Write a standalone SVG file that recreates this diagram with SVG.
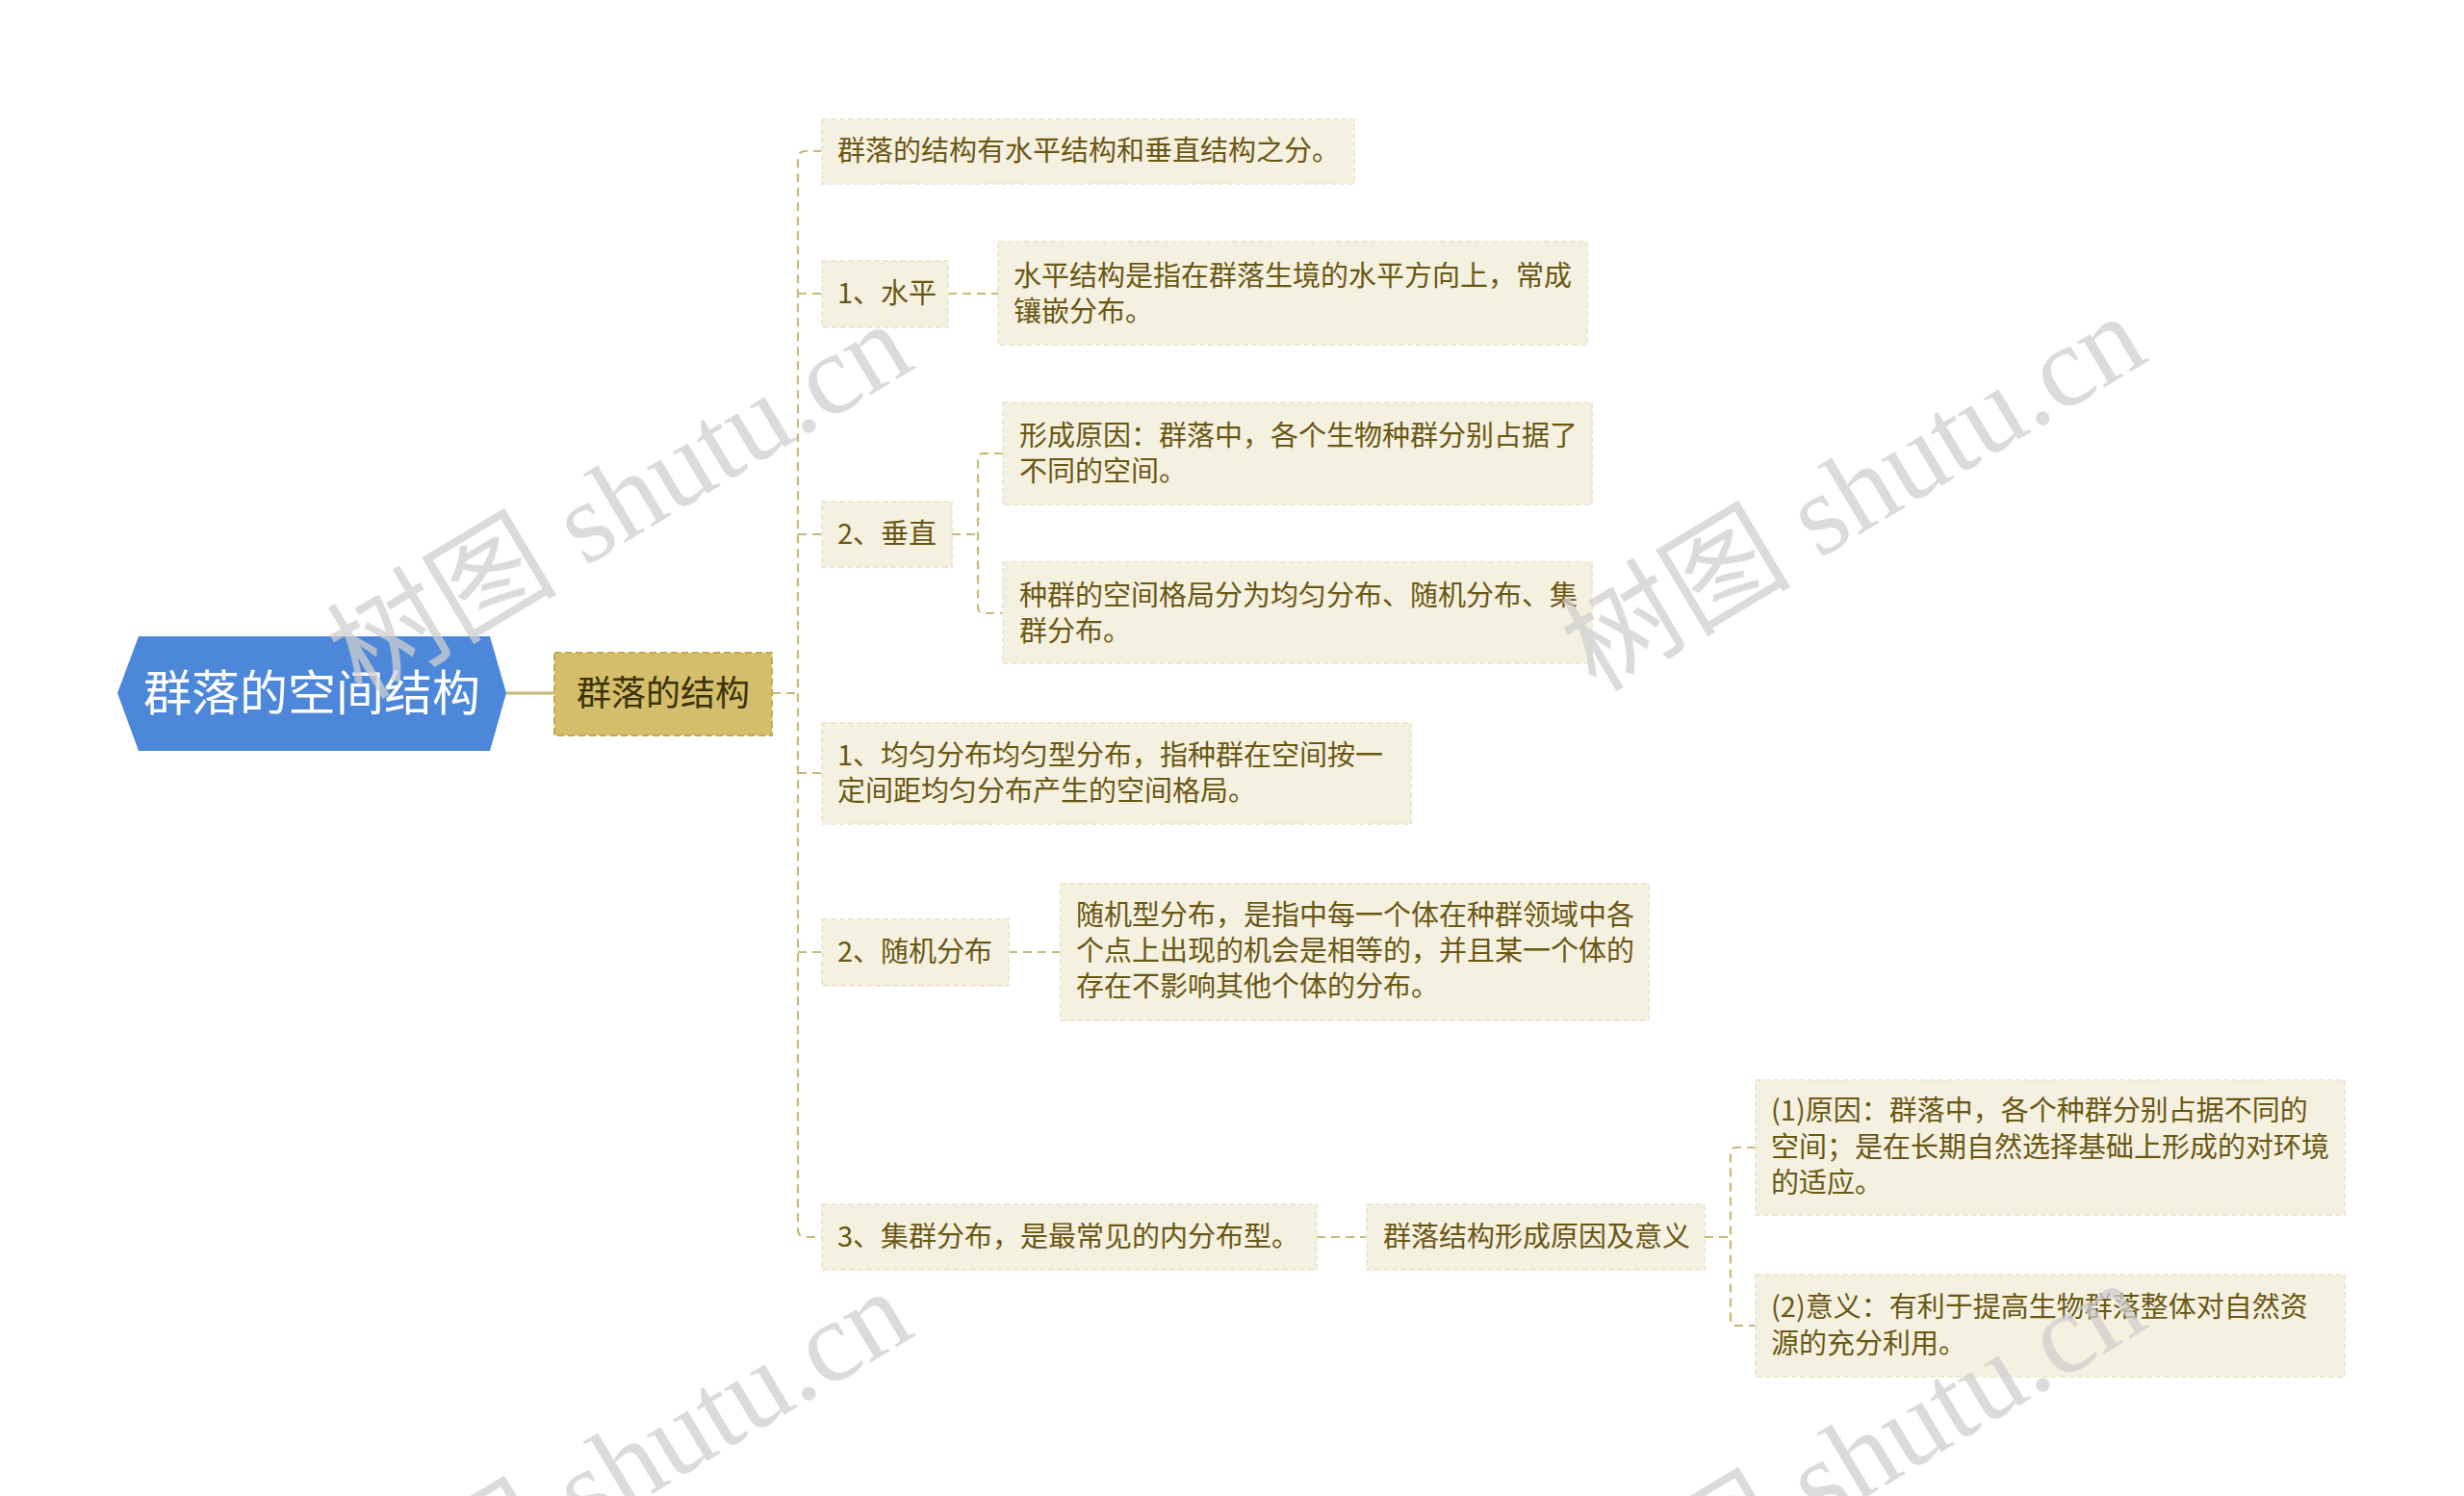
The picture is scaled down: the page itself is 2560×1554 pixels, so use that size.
<svg xmlns="http://www.w3.org/2000/svg" width="2560" height="1554" viewBox="0 0 2560 1554">
<style>
.leaf{fill:#F5F1E0;stroke:#EFE8D0;stroke-width:2;stroke-dasharray:6 3}
.t{font-family:"Noto Sans CJK SC","Noto Sans",sans-serif;font-size:29px;fill:#6A5714}
.c{fill:none;stroke:#C9B87A;stroke-width:2.2;stroke-dasharray:9 6}
.wm{font-family:"Liberation Serif","Noto Sans CJK SC",serif;font-size:120px;fill:#CFCFCF;opacity:0.75}
</style>
<rect width="2560" height="1554" fill="#FFFFFF"/>
<g id="connectors">
<line x1="526" y1="720" x2="576" y2="720" stroke="#C9B87A" stroke-width="3"/>
<path class="c" d="M802 720H829"/>
<path class="c" d="M854 157H837Q829 157 829 165V1277Q829 1285 837 1285H854"/>
<path class="c" d="M829 305H854M829 555H854M829 803H854M829 989H854"/>
<path class="c" d="M985 305H1037"/>
<path class="c" d="M989 555H1016M1042 471H1022Q1016 471 1016 477V631Q1016 637 1022 637H1042"/>
<path class="c" d="M1048 989H1102"/>
<path class="c" d="M1368 1285H1420"/>
<path class="c" d="M1771 1285H1798M1824 1192H1804Q1798 1192 1798 1198V1371Q1798 1377 1804 1377H1824"/>
</g>
<g id="root">
<polygon points="122,720 144,661 509,661 526,720 509,780 144,780" fill="#4D87DA"/>
<text x="324" y="738" text-anchor="middle" font-family="Noto Sans CJK SC, sans-serif" font-size="50" fill="#FFFFFF">群落的空间结构</text>
</g>
<g id="n-structure">
<rect x="576" y="678" width="226" height="86" fill="#D4BE6B" stroke="#C2A955" stroke-width="2" stroke-dasharray="7 4"/>
<text x="689" y="733" text-anchor="middle" font-family="Noto Sans CJK SC, sans-serif" font-size="36" fill="#3A3208">群落的结构</text>
</g>
<g id="n1">
<rect class="leaf" x="854" y="124" width="553" height="67"/>
<text class="t" x="870" y="167">群落的结构有水平结构和垂直结构之分。</text>
</g>
<g id="n2">
<rect class="leaf" x="854" y="271" width="131" height="69"/>
<text class="t" x="870" y="315">1、水平</text>
</g>
<g id="n2a">
<rect class="leaf" x="1037" y="251" width="612" height="107"/>
<text class="t" x="1053" y="297">水平结构是指在群落生境的水平方向上，常成</text>
<text class="t" x="1053" y="334">镶嵌分布。</text>
</g>
<g id="n3">
<rect class="leaf" x="854" y="521" width="135" height="68"/>
<text class="t" x="870" y="565">2、垂直</text>
</g>
<g id="n3a">
<rect class="leaf" x="1042" y="418" width="612" height="106"/>
<text class="t" x="1059" y="463">形成原因：群落中，各个生物种群分别占据了</text>
<text class="t" x="1059" y="500">不同的空间。</text>
</g>
<g id="n3b">
<rect class="leaf" x="1042" y="584" width="612" height="105"/>
<text class="t" x="1059" y="629">种群的空间格局分为均匀分布、随机分布、集</text>
<text class="t" x="1059" y="666">群分布。</text>
</g>
<g id="n4">
<rect class="leaf" x="854" y="751" width="612" height="105"/>
<text class="t" x="870" y="795">1、均匀分布均匀型分布，指种群在空间按一</text>
<text class="t" x="870" y="832">定间距均匀分布产生的空间格局。</text>
</g>
<g id="n5">
<rect class="leaf" x="854" y="955" width="194" height="69"/>
<text class="t" x="870" y="999">2、随机分布</text>
</g>
<g id="n5a">
<rect class="leaf" x="1102" y="918" width="611" height="142"/>
<text class="t" x="1118" y="961">随机型分布，是指中每一个体在种群领域中各</text>
<text class="t" x="1118" y="998">个点上出现的机会是相等的，并且某一个体的</text>
<text class="t" x="1118" y="1035">存在不影响其他个体的分布。</text>
</g>
<g id="n6">
<rect class="leaf" x="854" y="1251" width="514" height="68"/>
<text class="t" x="870" y="1295">3、集群分布，是最常见的内分布型。</text>
</g>
<g id="n6a">
<rect class="leaf" x="1420" y="1251" width="351" height="68"/>
<text class="t" x="1437" y="1295">群落结构形成原因及意义</text>
</g>
<g id="n6a1">
<rect class="leaf" x="1824" y="1122" width="612" height="140"/>
<text class="t" x="1840" y="1164">(1)原因：群落中，各个种群分别占据不同的</text>
<text class="t" x="1840" y="1202">空间；是在长期自然选择基础上形成的对环境</text>
<text class="t" x="1840" y="1239">的适应。</text>
</g>
<g id="n6a2">
<rect class="leaf" x="1824" y="1324" width="612" height="106"/>
<text class="t" x="1840" y="1368">(2)意义：有利于提高生物群落整体对自然资</text>
<text class="t" x="1840" y="1406">源的充分利用。</text>
</g>
<g id="watermarks">
<text class="wm" x="645" y="560" text-anchor="middle" transform="rotate(-31 645 522)">树图 shutu.cn</text>
<text class="wm" x="1927" y="552" text-anchor="middle" transform="rotate(-31 1927 514)">树图 shutu.cn</text>
<text class="wm" x="645" y="1565" text-anchor="middle" transform="rotate(-31 645 1527)">树图 shutu.cn</text>
<text class="wm" x="1927" y="1556" text-anchor="middle" transform="rotate(-31 1927 1518)">树图 shutu.cn</text>
</g>
</svg>
